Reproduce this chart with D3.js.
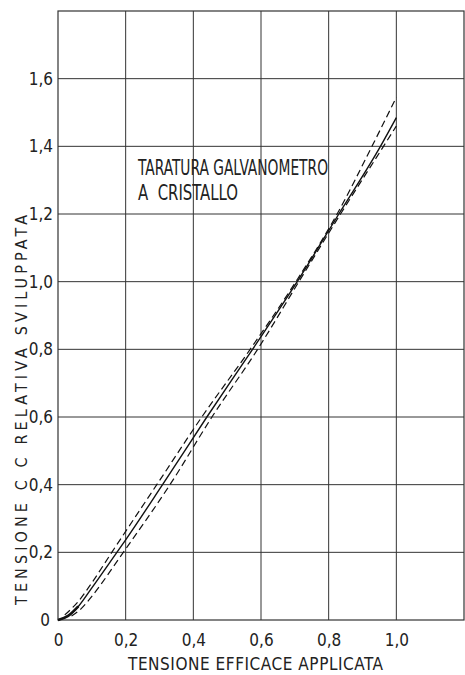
<!DOCTYPE html>
<html>
<head>
<meta charset="utf-8">
<script src="https://cdn.jsdelivr.net/npm/d3@7"></script>
<style>
  body { margin: 0; background: #fff; }
  svg text { font-family: "Liberation Sans Narrow", "DejaVu Sans Condensed", sans-serif; fill: #222; }
</style>
</head>
<body>
<svg id="chart" width="465" height="675"></svg>
<script>
// Values (x = applied RMS voltage, y = relative DC voltage)
const xTicks = [0, 0.2, 0.4, 0.6, 0.8, 1.0];
const yTicks = [0, 0.2, 0.4, 0.6, 0.8, 1.0, 1.2, 1.4, 1.6];
const xGrid = [0.2, 0.4, 0.6, 0.8, 1.0];
const yGrid = [0.2, 0.4, 0.6, 0.8, 1.0, 1.2, 1.4, 1.6];

const solidCurve = [[0, 0], [0.03, 0.012], [0.06, 0.04], [0.1, 0.095], [0.174, 0.2], [0.2, 0.237],
  [0.309, 0.4], [0.44, 0.6], [0.575, 0.8], [0.707, 1.0], [0.83, 1.2], [0.953, 1.4], [1.0, 1.485]];
const upperCurve = [[0.02, 0.015], [0.06, 0.055], [0.1, 0.11], [0.159, 0.2], [0.292, 0.4],
  [0.425, 0.6], [0.568, 0.8], [0.703, 1.0], [0.825, 1.2], [0.928, 1.4], [1.0, 1.545]];
const lowerCurve = [[0.04, 0.012], [0.07, 0.035], [0.1, 0.07], [0.193, 0.2], [0.331, 0.4],
  [0.455, 0.6], [0.59, 0.8], [0.712, 1.0], [0.835, 1.2], [0.962, 1.4], [1.0, 1.46]];

const svg = d3.select("#chart");

// plot frame, square grid (0.2 units = ~67.6 px both ways)
const plotLeft = 58, plotRight = 464, plotTop = 11, plotBottom = 620;
const x = d3.scaleLinear().domain([0, 1.2]).range([plotLeft, plotRight]);
const y = d3.scaleLinear().domain([0, 1.8]).range([plotBottom, plotTop]);

const fmt = d => d === 0 ? "0" : d3.format(".1f")(d).replace(".", ",");

// grid lines
const grid = svg.append("g").attr("stroke", "#333").attr("stroke-width", 1);
grid.selectAll("line.v").data(xGrid).join("line")
  .attr("x1", d => x(d)).attr("x2", d => x(d))
  .attr("y1", y(1.8)).attr("y2", y(0));
grid.selectAll("line.h").data(yGrid).join("line")
  .attr("x1", x(0)).attr("x2", x(1.2))
  .attr("y1", d => y(d)).attr("y2", d => y(d));

// frame
svg.append("rect")
  .attr("x", x(0)).attr("y", y(1.8))
  .attr("width", x(1.2) - x(0)).attr("height", y(0) - y(1.8))
  .attr("fill", "none").attr("stroke", "#333").attr("stroke-width", 1.2);

// axes (labels only, lines drawn above)
const xAxis = svg.append("g")
  .attr("transform", `translate(0,${plotBottom})`)
  .call(d3.axisBottom(x).tickValues(xTicks).tickSize(0).tickPadding(14).tickFormat(fmt));
xAxis.select(".domain").remove();
xAxis.selectAll("text").attr("font-size", 17).attr("fill", "#222");
xAxis.attr("font-family", null);

const yAxis = svg.append("g")
  .attr("transform", `translate(${plotLeft},0)`)
  .call(d3.axisLeft(y).tickValues(yTicks).tickSize(0).tickPadding(5).tickFormat(fmt));
yAxis.select(".domain").remove();
yAxis.selectAll("text").attr("font-size", 17).attr("fill", "#222");
yAxis.attr("font-family", null);
yAxis.selectAll(".tick").filter(d => d === 0).select("text").attr("dx", -3);

// curves
const line = d3.line().x(d => x(d[0])).y(d => y(d[1])).curve(d3.curveMonotoneX);

svg.append("path").datum(solidCurve)
  .attr("d", line).attr("fill", "none").attr("stroke", "#111").attr("stroke-width", 1.4);
svg.append("path").datum(upperCurve)
  .attr("d", line).attr("fill", "none").attr("stroke", "#111").attr("stroke-width", 1.2)
  .attr("stroke-dasharray", "7,4");
svg.append("path").datum(lowerCurve)
  .attr("d", line).attr("fill", "none").attr("stroke", "#111").attr("stroke-width", 1.2)
  .attr("stroke-dasharray", "7,4");
// thick foot near the origin
svg.append("path").datum(solidCurve.slice(0, 3))
  .attr("d", line).attr("fill", "none").attr("stroke", "#111").attr("stroke-width", 2.6);

// inner title
svg.append("text").attr("x", 138).attr("y", 175).attr("font-size", 21)
  .attr("textLength", 190).attr("lengthAdjust", "spacingAndGlyphs")
  .text("TARATURA GALVANOMETRO");
svg.append("text").attr("x", 138).attr("y", 200).attr("font-size", 21)
  .attr("textLength", 100).attr("lengthAdjust", "spacingAndGlyphs")
  .attr("xml:space", "preserve")
  .text("A  CRISTALLO");

// axis titles
svg.append("text").attr("x", 128).attr("y", 670).attr("font-size", 17)
  .attr("textLength", 255).attr("lengthAdjust", "spacing")
  .text("TENSIONE EFFICACE APPLICATA");
svg.append("text")
  .attr("transform", "translate(27,605) rotate(-90)")
  .attr("font-size", 16)
  .attr("textLength", 390).attr("lengthAdjust", "spacing")
  .text("TENSIONE C C RELATIVA SVILUPPATA");
</script>
</body>
</html>
